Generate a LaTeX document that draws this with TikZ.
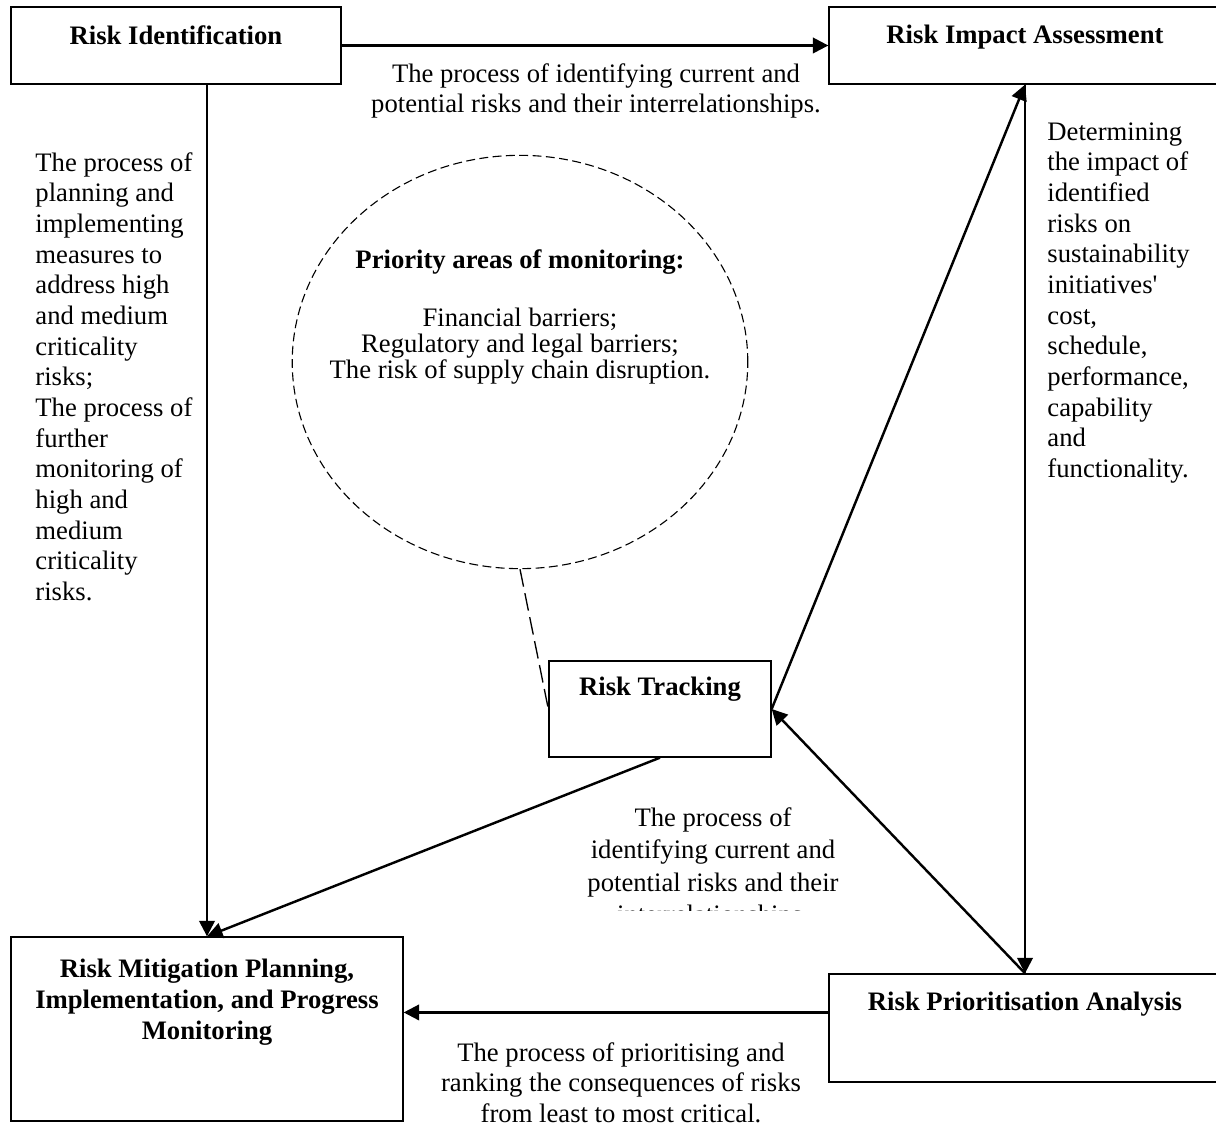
\documentclass[tikz,border=0pt]{standalone}
\usepackage{fontspec}
\setmainfont{Liberation Serif}
\usepackage{tikz}
\usetikzlibrary{fit}
\usetikzlibrary{shapes}
\usetikzlibrary{calc}
\usetikzlibrary{arrows.meta}

\begin{document}
\begin{tikzpicture}[x=0.45pt, y=-0.45pt,
    box/.style={draw, line width=0.6pt, inner sep=0pt},
    head/.style={anchor=north, align=center, inner sep=0pt, font=\bfseries\fontsize{12}{13.8}\selectfont},
    note/.style={inner sep=0pt, font=\fontsize{12}{13.8}\selectfont},
    arr/.style={line width=1.1pt, -{Triangle[length=7pt, width=7pt]}}]
    \useasboundingbox (0,0) rectangle (1216,1126);

    % Draw boxes
    \node[box, fit={(11,7) (341,84)}] (ident) {};
    \node[box, fit={(829,7) (1221,84)}] (impact) {};
    \node[box, fit={(549,661) (771,757)}] (track) {};
    \node[box, fit={(11,937) (403,1121)}] (mitig) {};
    \node[box, fit={(829,974) (1221,1082)}] (prior) {};

    % Box titles
    \node[head] (identtxt) at (176,25) {Risk Identification};
    \node[head] (impacttxt) at (1025,25) {Risk Impact Assessment};
    \node[head] (tracktxt) at (660,677) {Risk Tracking};
    \node[head] (mitigtxt) at (207,959) {Risk Mitigation Planning,\\Implementation, and Progress\\Monitoring};
    \node[head] (priortxt) at (1025,992) {Risk Prioritisation Analysis};

    % Dashed bubble
    \node[ellipse, draw, line width=0.5pt, dash pattern=on 4pt off 2pt, minimum width=205pt, minimum height=186pt, inner sep=0pt] (focus) at (520,362) {};
    \node[align=center, inner sep=0pt, font=\fontsize{12}{11.7}\selectfont] (focustxt) at (520,317) {\textbf{Priority areas of monitoring:}\\[14pt]Financial barriers;\\Regulatory and legal barriers;\\The risk of supply chain disruption.};
    \draw[line width=0.6pt, dash pattern=on 8pt off 3pt] (focus.south) -- (track.west);

    % Draw arrows
    \draw[arr] (ident.east) -- (impact.west);
    \draw[arr] (ident.south -| mitig.north) -- (mitig.north);
    \draw[arr] (impact.south) -- (prior.north);
    \draw[arr] ([yshift=7pt]prior.west) -- ([yshift=7pt]prior.west -| mitig.east);
    \draw[arr] (prior.north) -- (track.east);
    \draw[arr] (track.east) -- (impact.south);
    \draw[arr] (track.south) -- (mitig.north);

    % Labels
    \node[note, anchor=north, align=center] (identlbl) at (596,63) {The process of identifying current and\\potential risks and their interrelationships.};
    \node[note, anchor=north west, align=left] (mitiglbl) at (35,152) {The process of\\planning and\\implementing\\measures to\\address high\\and medium\\criticality\\risks;\\The process of\\further\\monitoring of\\high and\\medium\\criticality\\risks.};
    \node[note, anchor=north west, align=left] (impactlbl) at (1047,122) {Determining\\the impact of\\identified\\risks on\\sustainability\\initiatives\textquotesingle\\cost,\\schedule,\\performance,\\capability\\and\\functionality.};
    \node[note, anchor=north, align=center] (priorlbl) at (621,1042) {The process of prioritising and\\ranking the consequences of risks\\from least to most critical.};
    \begin{scope}
        \clip (560,790) rectangle (880,910);
        \node[note, anchor=north, align=center, font=\fontsize{12}{14.6}\selectfont] (tracklbl) at (713,807) {The process of\\identifying current and\\potential risks and their\\interrelationships.};
    \end{scope}
\end{tikzpicture}
\end{document}
